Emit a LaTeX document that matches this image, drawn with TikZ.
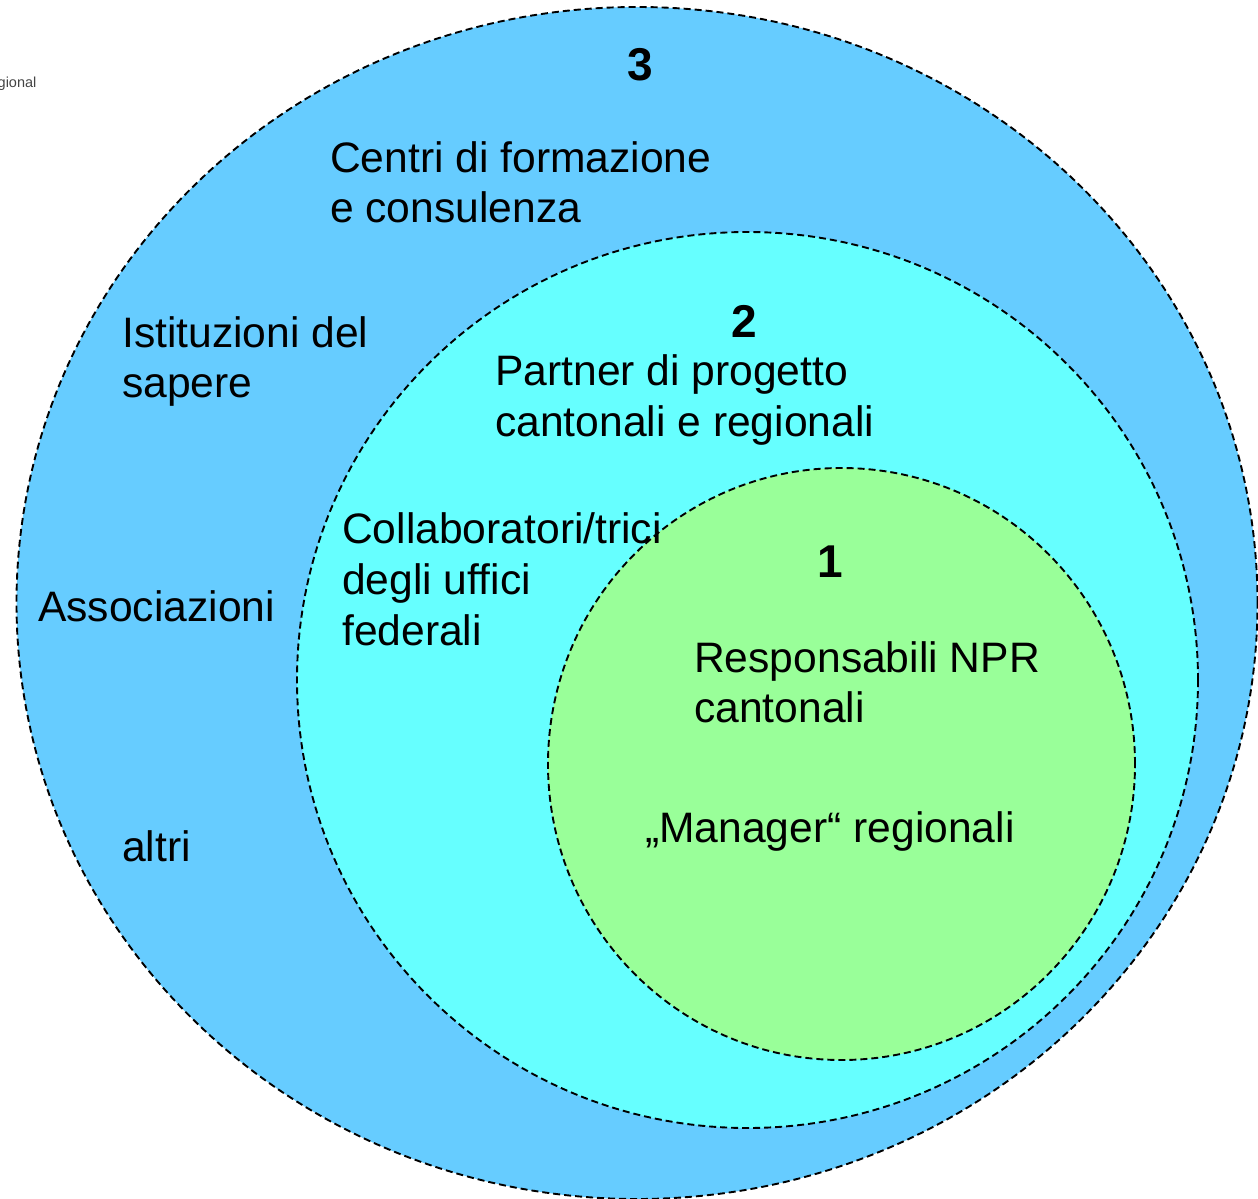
\documentclass[tikz,border=0pt]{standalone}
\usepackage{fontspec}
\setmainfont{Liberation Sans}
\usetikzlibrary{shapes.geometric}
\definecolor{ringthree}{HTML}{66CCFF}
\definecolor{ringtwo}{HTML}{66FFFF}
\definecolor{ringone}{HTML}{99FF99}
\definecolor{graytxt}{HTML}{444444}
\tikzset{
  ring/.style={ellipse, draw=black, line width=1.9pt, dash pattern=on 7pt off 4pt, inner sep=0pt},
  lbl/.style={anchor=base west, inner sep=0pt, font=\fontsize{42.6}{50}\selectfont},
  num/.style={anchor=base, inner sep=0pt, font=\fontsize{46}{50}\selectfont\bfseries},
}
\begin{document}
\begin{tikzpicture}[x=1pt,y=-1pt]
\useasboundingbox (0,0) rectangle (1258,1199);
\node[ring, fill=ringthree, minimum width=1241pt, minimum height=1192pt] (outer) at (637,603) {};
\node[ring, fill=ringtwo, minimum width=901pt, minimum height=896pt] (middle) at (747.5,680) {};
\node[ring, fill=ringone, minimum width=587pt, minimum height=592pt] (inner) at (841.5,764) {};

\node[anchor=base west, inner sep=0pt, text=graytxt, font=\fontsize{14.5}{16}\selectfont] (logo) at (-2.5,87) {gional};

\node[num] (n3) at (640,81) {3};
\node[lbl] (c1) at (330,172) {Centri di formazione};
\node[lbl] (c2) at (330,222) {e consulenza};
\node[lbl] (i1) at (122,347) {Istituzioni del};
\node[lbl] (i2) at (122,397) {sapere};
\node[lbl] (as) at (38,621) {Associazioni};
\node[lbl] (al) at (122,861) {altri};

\node[num] (n2) at (744,337) {2};
\node[lbl] (p1) at (495,385) {Partner di progetto};
\node[lbl] (p2) at (495,436) {cantonali e regionali};
\node[lbl] (k1) at (342,543) {Collaboratori/trici};
\node[lbl] (k2) at (342,594) {degli uffici};
\node[lbl] (k3) at (342,645) {federali};

\node[num] (n1) at (830,577) {1};
\node[lbl] (r1) at (694,672) {Responsabili NPR};
\node[lbl] (r2) at (694,722) {cantonali};
\node[lbl] (m1) at (645,842) {„Manager“ regionali};
\end{tikzpicture}
\end{document}
